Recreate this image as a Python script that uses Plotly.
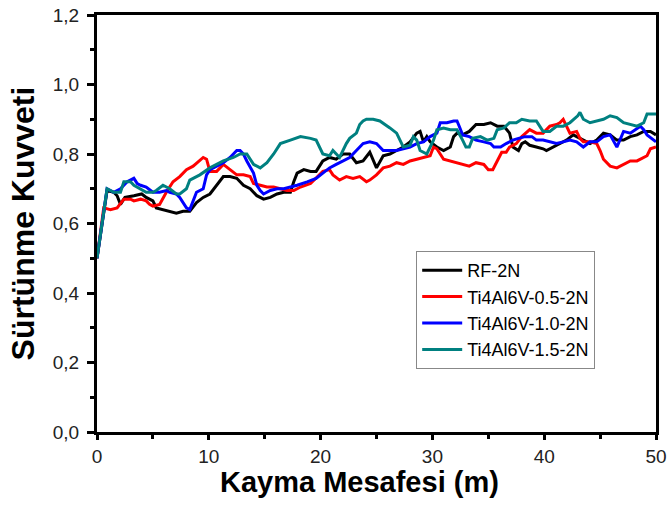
import plotly.graph_objects as go

# ---- data ----
rf_x = [0, 0.9, 1.5, 1.8, 2.1, 2.5, 3.3, 4.0, 4.4, 5.0, 5.3, 5.9, 6.5, 7.1, 7.7, 8.3, 8.9, 9.5, 10.1, 10.7, 11.3, 11.9, 12.5, 13.1, 13.7, 14.3, 14.9, 15.5, 16.1, 16.7, 17.3, 17.6, 17.9, 18.5, 19.1, 19.6, 20.2, 20.8, 21.4, 22.0, 22.6, 23.2, 23.8, 24.4, 24.7, 25.0, 25.6, 26.2, 26.8, 27.4, 28.0, 28.6, 28.9, 29.2, 29.5, 29.8, 30.4, 31.0, 31.6, 31.9, 32.2, 32.7, 33.3, 33.9, 34.6, 35.2, 35.8, 36.4, 36.9, 37.2, 37.7, 38.0, 38.3, 38.7, 39.3, 39.9, 40.2, 40.8, 41.4, 42.0, 42.6, 42.9, 43.5, 44.1, 44.7, 45.3, 45.9, 46.5, 47.1, 47.7, 48.3, 48.9, 49.5, 50.0]
rf_y = [0.50, 0.695, 0.69, 0.68, 0.655, 0.675, 0.68, 0.685, 0.675, 0.665, 0.645, 0.64, 0.635, 0.63, 0.635, 0.635, 0.66, 0.675, 0.685, 0.71, 0.735, 0.735, 0.73, 0.71, 0.70, 0.68, 0.67, 0.675, 0.685, 0.69, 0.69, 0.72, 0.745, 0.755, 0.75, 0.75, 0.78, 0.79, 0.785, 0.80, 0.80, 0.775, 0.78, 0.805, 0.78, 0.76, 0.795, 0.80, 0.81, 0.82, 0.835, 0.86, 0.865, 0.835, 0.85, 0.835, 0.82, 0.81, 0.82, 0.85, 0.86, 0.855, 0.865, 0.885, 0.885, 0.89, 0.88, 0.88, 0.86, 0.82, 0.81, 0.83, 0.835, 0.825, 0.82, 0.815, 0.81, 0.82, 0.83, 0.84, 0.855, 0.85, 0.84, 0.83, 0.84, 0.86, 0.855, 0.84, 0.84, 0.85, 0.855, 0.865, 0.865, 0.855]

red_x = [0, 0.6, 1.2, 1.8, 2.4, 3.0, 3.3, 3.9, 4.4, 4.7, 5.0, 5.6, 6.2, 6.8, 7.4, 8.0, 8.6, 9.2, 9.5, 9.8, 10.1, 10.7, 11.3, 11.9, 12.5, 13.1, 13.7, 14.0, 14.6, 15.2, 15.8, 16.4, 17.0, 17.6, 18.2, 19.1, 19.6, 20.2, 20.8, 21.1, 21.7, 22.3, 22.9, 23.5, 24.1, 24.4, 25.0, 25.6, 26.2, 26.8, 27.4, 28.0, 28.6, 29.2, 29.8, 30.1, 30.4, 31.0, 31.6, 32.2, 32.7, 33.3, 33.9, 34.6, 35.0, 35.4, 35.8, 36.2, 36.6, 36.9, 37.5, 38.0, 38.7, 39.3, 39.9, 40.5, 41.1, 41.4, 41.7, 42.0, 42.3, 42.9, 43.2, 43.5, 44.1, 44.7, 45.0, 45.3, 45.9, 46.5, 47.1, 47.7, 48.3, 49.2, 49.5, 50.0]
red_y = [0.50, 0.645, 0.64, 0.645, 0.67, 0.67, 0.665, 0.67, 0.665, 0.655, 0.65, 0.655, 0.69, 0.72, 0.735, 0.755, 0.765, 0.78, 0.79, 0.785, 0.75, 0.75, 0.77, 0.755, 0.74, 0.74, 0.735, 0.715, 0.71, 0.705, 0.705, 0.70, 0.695, 0.695, 0.705, 0.715, 0.73, 0.75, 0.755, 0.74, 0.725, 0.735, 0.73, 0.735, 0.72, 0.725, 0.74, 0.76, 0.765, 0.775, 0.77, 0.78, 0.785, 0.79, 0.795, 0.82, 0.815, 0.785, 0.78, 0.775, 0.77, 0.765, 0.775, 0.77, 0.755, 0.755, 0.78, 0.805, 0.805, 0.82, 0.83, 0.85, 0.87, 0.86, 0.86, 0.88, 0.885, 0.89, 0.90, 0.88, 0.86, 0.865, 0.845, 0.835, 0.835, 0.83, 0.81, 0.785, 0.765, 0.76, 0.77, 0.78, 0.78, 0.795, 0.815, 0.82, 0.79]

blue_x = [0, 0.9, 1.5, 2.1, 2.7, 3.3, 3.6, 3.9, 4.4, 5.0, 5.6, 6.2, 6.5, 7.1, 7.4, 8.0, 8.3, 8.6, 8.9, 9.5, 9.8, 10.1, 10.7, 11.3, 11.9, 12.5, 12.8, 13.1, 13.4, 14.0, 14.3, 14.6, 14.9, 15.5, 16.1, 16.7, 17.3, 17.9, 18.8, 19.6, 20.2, 20.8, 21.4, 22.0, 22.6, 23.2, 23.8, 24.4, 25.0, 25.6, 26.2, 26.8, 27.4, 28.0, 28.6, 29.2, 29.8, 30.4, 30.7, 31.3, 31.9, 32.2, 32.4, 32.7, 33.3, 33.9, 34.6, 35.2, 35.5, 36.1, 36.6, 37.2, 37.7, 38.3, 38.9, 39.3, 39.9, 40.5, 41.1, 41.7, 42.3, 42.9, 43.5, 44.1, 44.7, 45.3, 45.9, 46.5, 46.8, 47.1, 47.7, 48.3, 48.6, 48.9, 49.2, 50.0]
blue_y = [0.50, 0.70, 0.69, 0.70, 0.72, 0.73, 0.715, 0.71, 0.705, 0.69, 0.69, 0.695, 0.69, 0.685, 0.675, 0.645, 0.64, 0.665, 0.69, 0.70, 0.74, 0.755, 0.765, 0.775, 0.79, 0.81, 0.81, 0.80, 0.78, 0.745, 0.71, 0.695, 0.685, 0.695, 0.70, 0.70, 0.705, 0.71, 0.72, 0.73, 0.745, 0.76, 0.77, 0.78, 0.79, 0.81, 0.83, 0.835, 0.83, 0.81, 0.81, 0.81, 0.815, 0.82, 0.83, 0.835, 0.85, 0.86, 0.89, 0.89, 0.895, 0.895, 0.88, 0.855, 0.85, 0.84, 0.835, 0.83, 0.82, 0.82, 0.83, 0.84, 0.845, 0.85, 0.85, 0.84, 0.84, 0.835, 0.83, 0.835, 0.84, 0.835, 0.82, 0.835, 0.835, 0.85, 0.855, 0.82, 0.84, 0.865, 0.86, 0.875, 0.88, 0.87, 0.855, 0.835]

teal_x = [0, 0.9, 1.5, 2.1, 2.4, 3.0, 3.3, 3.9, 4.4, 5.0, 5.3, 5.9, 6.5, 7.1, 7.4, 8.0, 8.3, 9.2, 10.1, 10.7, 11.3, 12.2, 12.8, 13.4, 14.0, 14.6, 15.2, 15.8, 16.4, 17.3, 18.2, 19.1, 19.6, 20.2, 20.8, 21.1, 21.7, 22.3, 22.6, 23.2, 23.5, 23.8, 24.1, 24.7, 25.3, 26.2, 26.8, 27.1, 27.4, 28.0, 28.3, 28.6, 28.9, 29.5, 30.1, 30.4, 31.0, 31.6, 32.2, 32.7, 33.0, 33.3, 33.6, 34.3, 34.9, 35.5, 35.8, 36.4, 36.9, 37.5, 38.0, 38.7, 39.3, 39.9, 40.5, 41.1, 41.7, 42.3, 43.0, 43.2, 43.5, 44.1, 44.7, 45.3, 45.9, 46.5, 47.1, 47.7, 48.3, 48.9, 49.2, 50.0]
teal_y = [0.50, 0.70, 0.69, 0.69, 0.72, 0.72, 0.71, 0.70, 0.69, 0.69, 0.695, 0.71, 0.70, 0.685, 0.685, 0.70, 0.725, 0.74, 0.76, 0.77, 0.78, 0.79, 0.80, 0.80, 0.77, 0.76, 0.775, 0.80, 0.83, 0.84, 0.85, 0.845, 0.84, 0.80, 0.795, 0.81, 0.79, 0.83, 0.845, 0.86, 0.885, 0.895, 0.90, 0.90, 0.895, 0.875, 0.86, 0.84, 0.82, 0.825, 0.85, 0.84, 0.81, 0.80, 0.84, 0.87, 0.875, 0.87, 0.87, 0.84, 0.82, 0.82, 0.845, 0.85, 0.84, 0.845, 0.87, 0.875, 0.89, 0.89, 0.90, 0.895, 0.895, 0.865, 0.865, 0.88, 0.88, 0.89, 0.91, 0.92, 0.90, 0.89, 0.895, 0.90, 0.91, 0.905, 0.89, 0.885, 0.88, 0.89, 0.915, 0.915]

series = [
    ("RF-2N", rf_x, rf_y, "#000000"),
    ("Ti4Al6V-0.5-2N", red_x, red_y, "#FF0000"),
    ("Ti4Al6V-1.0-2N", blue_x, blue_y, "#0000FF"),
    ("Ti4Al6V-1.5-2N", teal_x, teal_y, "#008080"),
]

x_ticks = [0, 10, 20, 30, 40, 50]
y_ticks = [0.0, 0.2, 0.4, 0.6, 0.8, 1.0, 1.2]
x_title = "Kayma Mesafesi (m)"
y_title = "Sürtünme Kuvveti"

FONT = "Liberation Sans, Arial, sans-serif"

fig = go.Figure()
for name, xs, ys, col in series:
    fig.add_trace(go.Scatter(x=xs, y=ys, mode="lines", name=name,
                             line=dict(color=col, width=3)))

axis_common = dict(
    showline=True, linewidth=3, linecolor="black", mirror=True,
    ticks="outside", tickwidth=3, tickcolor="black",
    showgrid=False, zeroline=False, automargin=False,
    ticklabeloverflow="allow",
    tickfont=dict(family=FONT, size=19, color="#222"),
)

fig.update_xaxes(range=[0, 50], tickvals=x_ticks, ticklen=5,
                 minor=dict(dtick=5, ticks="outside", ticklen=4, tickwidth=3, tickcolor="black"),
                 **axis_common)
fig.update_yaxes(range=[0, 1.2], tickvals=y_ticks, tickformat=".1f", ticklen=7,
                 ticklabelstandoff=4,
                 minor=dict(dtick=0.1, ticks="outside", ticklen=4, tickwidth=3, tickcolor="black"),
                 title=dict(text=y_title,
                            font=dict(family=FONT, size=32, color="black", weight="bold"),
                            standoff=9),
                 **axis_common)

fig.add_annotation(text=x_title, xref="paper", yref="paper",
                   x=0.47, y=-0.12, xanchor="center", yanchor="middle",
                   showarrow=False,
                   font=dict(family=FONT, size=29, color="black", weight="bold"))

fig.update_layout(
    width=667, height=507,
    margin=dict(l=97, r=11, t=15, b=75),
    paper_bgcolor="white", plot_bgcolor="white",
    separators=",.",
    font=dict(family=FONT),
    showlegend=True,
    legend=dict(x=0.571, y=0.434, xanchor="left", yanchor="top",
                bordercolor="#888", borderwidth=1, bgcolor="white",
                font=dict(family=FONT, size=18, color="black"),
                tracegroupgap=0, itemwidth=40),
)

# remove the default 8 px body margin so the figure fills the 667x507 window exactly
fig.write_html("out.html", config={"displayModeBar": False},
               post_script="document.body.style.margin='0';")
